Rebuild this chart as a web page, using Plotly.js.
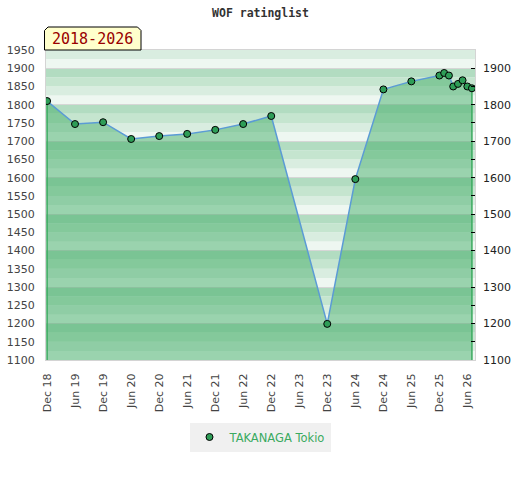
<!DOCTYPE html>
<html>
<head>
<meta charset="utf-8">
<script src="https://cdn.plot.ly/plotly-3.0.1.min.js"></script>
<style>
  html, body { margin: 0; padding: 0; background: #fff; }
  #chart { width: 520px; height: 480px; }
</style>
</head>
<body>
<div id="chart"></div>
<script>
// ---- data ----
const playerName = 'TAKANAGA Tokio';
const chartTitle = 'WOF ratinglist';
const periodLabel = '2018-2026';
const dates = ['2018-12-01','2019-06-01','2019-12-01','2020-06-01','2020-12-01','2021-06-01',
               '2021-12-01','2022-06-01','2022-12-01','2023-12-01','2024-06-01','2024-12-01',
               '2025-06-01','2025-12-01','2026-01-01','2026-02-01','2026-03-01','2026-04-01',
               '2026-05-01','2026-06-01','2026-07-01'];
const ratings = [1810,1747,1752,1706,1714,1720,1731,1747,1769,1199,1596,1842,
                 1864,1880,1887,1880,1850,1857,1867,1850,1845];
const yRange = [1100, 1950];
const xRange = ['2018-11-24', '2026-07-21'];

// ---- layout helpers ----
const W = 520, H = 480;
const M = { l: 46, r: 45, t: 50, b: 120 };
const PW = W - M.l - M.r, PH = H - M.t - M.b;
const px = x => (x - M.l) / PW;
const py = y => (H - M.b - y) / PH;

// background bands (25-unit steps, 4-tone cycle per hundred)
const bandColors = ['#eef7f1', '#d9ede0', '#c5e5cf', '#b2dcc1'];
const shapes = [];
for (let v = yRange[0]; v < yRange[1]; v += 25) {
  const idx = Math.round((v - 1100) / 25) % 4;
  shapes.push({
    type: 'rect', xref: 'paper', yref: 'y', x0: 0, x1: 1, y0: v, y1: v + 25,
    fillcolor: bandColors[idx], line: { width: 0 }, layer: 'below'
  });
}
// label box with cut corners
const bx0 = 44.5, bx1 = 141, by0 = 27, by1 = 50, c = 3.5;
shapes.push({
  type: 'path', xref: 'paper', yref: 'paper',
  path: `M ${px(bx0)} ${py(by1)} L ${px(bx0)} ${py(by0 + c)} L ${px(bx0 + c)} ${py(by0)} ` +
        `L ${px(bx1 - c)} ${py(by0)} L ${px(bx1)} ${py(by0 + c)} L ${px(bx1)} ${py(by1)} Z`,
  fillcolor: '#ffffcc', line: { color: '#000', width: 1 }, layer: 'above'
});

const traces = [
  { // filled area with line
    x: dates, y: ratings, type: 'scatter', mode: 'lines',
    fill: 'tozeroy', fillcolor: 'rgba(60,170,98,0.47)',
    line: { color: '#5b9bd5', width: 1.5 }, showlegend: false, hoverinfo: 'skip'
  },
  { // left edge
    x: [dates[0], dates[0]], y: [ratings[0], yRange[0]], type: 'scatter', mode: 'lines',
    line: { color: '#3aaa5f', width: 1.5 }, showlegend: false, hoverinfo: 'skip'
  },
  { // right edge
    x: [dates[dates.length - 1], dates[dates.length - 1]],
    y: [ratings[ratings.length - 1], yRange[0]], type: 'scatter', mode: 'lines',
    line: { color: '#3aaa5f', width: 1.5 }, showlegend: false, hoverinfo: 'skip'
  },
  { // markers (legend entry)
    x: dates, y: ratings, type: 'scatter', mode: 'markers', name: playerName,
    marker: { size: 7, color: '#2e9d57', line: { color: '#000', width: 1 } }
  },
  { // invisible trace to drive right axis
    x: [dates[0]], y: [ratings[0]], yaxis: 'y2', type: 'scatter', mode: 'markers',
    marker: { opacity: 0 }, showlegend: false, hoverinfo: 'skip'
  }
];

const tickFont = { family: 'DejaVu Sans, sans-serif', size: 11, color: '#444' };

const layout = {
  width: W, height: H,
  margin: M,
  paper_bgcolor: '#fff', plot_bgcolor: 'rgba(0,0,0,0)',
  title: {
    text: chartTitle, x: 0.5, xanchor: 'center', xref: 'paper',
    y: 1 - 13 / H, yanchor: 'middle',
    font: { family: 'DejaVu Sans Mono, monospace', size: 11.5, color: '#333', weight: 'bold' }
  },
  xaxis: {
    type: 'date', range: xRange, tickformat: '%b %y', dtick: 'M6', tick0: '2018-12-01',
    tickangle: -90, ticks: '', showgrid: false, zeroline: false,
    showline: true, mirror: true, linecolor: '#d4d4d4', linewidth: 1,
    tickfont: tickFont, ticklabelstandoff: 8
  },
  yaxis: {
    range: yRange, dtick: 50, tick0: 1100, ticks: '', showgrid: false, zeroline: false,
    showline: true, mirror: true, linecolor: '#d4d4d4', linewidth: 1,
    tickfont: tickFont, ticklabelstandoff: 8
  },
  yaxis2: {
    overlaying: 'y', side: 'right', range: yRange, dtick: 100, tick0: 1100,
    ticks: 'inside', ticklen: 4, tickcolor: '#000', tickwidth: 1,
    minor: { dtick: 50, tick0: 1100, ticks: 'inside', ticklen: 4, tickcolor: '#000', tickwidth: 1 },
    showgrid: true, gridcolor: '#d6d6d6', gridwidth: 1, zeroline: false, showline: false,
    tickfont: { family: 'DejaVu Sans, sans-serif', size: 11, color: '#222' },
    ticklabelstandoff: 7
  },
  shapes: shapes,
  annotations: [{
    text: periodLabel, xref: 'paper', yref: 'paper',
    x: px((bx0 + bx1) / 2), y: py((by0 + by1) / 2), xanchor: 'center', yanchor: 'middle',
    showarrow: false,
    font: { family: 'DejaVu Sans Mono, monospace', size: 15, color: '#990000' }
  }],
  legend: {
    orientation: 'h', xref: 'container', yref: 'container',
    x: 0.5, xanchor: 'center', y: 1 - 437 / H, yanchor: 'middle',
    bgcolor: '#f0f0f0', font: { family: 'DejaVu Sans, sans-serif', size: 11.5, color: '#3aaa5f' }
  },
  hovermode: false
};

Plotly.newPlot('chart', traces, layout, { displayModeBar: false, staticPlot: true });
</script>
</body>
</html>
